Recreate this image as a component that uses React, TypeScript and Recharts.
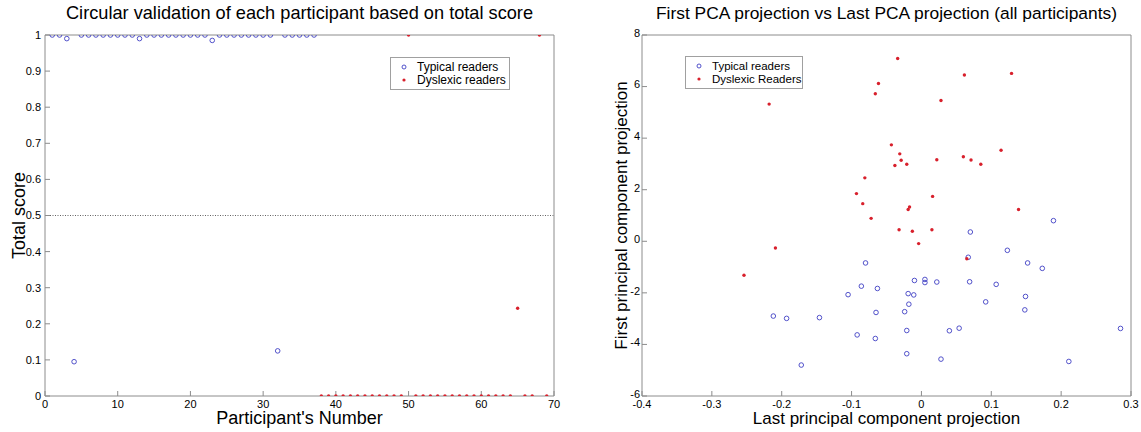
import React from 'react';
import { ScatterChart, Scatter, XAxis, YAxis, ReferenceLine, Legend } from 'recharts';

const FONT = '"Liberation Sans", Arial, Helvetica, sans-serif';
const AXIS_COLOR = '#8c8c8c';
const TEXT_COLOR = '#000';
const BLUE = '#4040c4';
const RED = '#d8202c';

// ---------- Left chart data ----------
const typicalParticipants = [1, 2, 3, 4, 5, 6, 7, 8, 9, 10, 11, 12, 13, 14, 15, 16, 17, 18, 19, 20, 21, 22, 23, 24, 25, 26, 27, 28, 29, 30, 31, 32, 33, 34, 35, 36, 37];
const typicalScores = [1, 1, 0.99, 0.095, 1, 1, 1, 1, 1, 1, 1, 1, 0.99, 1, 1, 1, 1, 1, 1, 1, 1, 1, 0.985, 1, 1, 1, 1, 1, 1, 1, 1, 0.125, 1, 1, 1, 1, 1];
const dyslexicParticipants = [38, 39, 40, 41, 42, 43, 44, 45, 46, 47, 48, 49, 50, 51, 52, 53, 54, 55, 56, 57, 58, 59, 60, 61, 62, 63, 64, 65, 66, 67, 68, 69];
const dyslexicScores = [0, 0, 0, 0, 0, 0, 0, 0, 0, 0, 0, 0, 1, 0, 0, 0, 0, 0, 0, 0, 0, 0, 0, 0, 0, 0, 0, 0.243, 0, 0, 1, 0];
const participantTicks = [0, 10, 20, 30, 40, 50, 60, 70];
const scoreTicks = [0, 0.1, 0.2, 0.3, 0.4, 0.5, 0.6, 0.7, 0.8, 0.9, 1];
const decisionThreshold = 0.5;
const leftSeriesNames = ['Typical readers', 'Dyslexic readers'];

// ---------- Right chart data ----------
const typicalLastPC = [0.189, 0.07, 0.123, 0.067, 0.152, 0.173, -0.08, -0.01, 0.005, 0.005, 0.022, 0.069, 0.107, -0.105, -0.086, -0.063, -0.019, -0.011, -0.018, 0.092, 0.149, 0.148, -0.212, -0.193, -0.146, -0.065, -0.024, -0.021, 0.04, 0.054, -0.092, -0.066, -0.021, 0.028, -0.172, 0.211, 0.285];
const typicalFirstPC = [0.8, 0.36, -0.35, -0.62, -0.84, -1.05, -0.84, -1.52, -1.48, -1.6, -1.58, -1.57, -1.67, -2.07, -1.74, -1.83, -2.03, -2.08, -2.44, -2.35, -2.14, -2.66, -2.9, -2.99, -2.96, -2.76, -2.73, -3.46, -3.47, -3.37, -3.63, -3.77, -4.36, -4.57, -4.8, -4.66, -3.38];
const dyslexicLastPC = [-0.218, -0.034, -0.0615, -0.066, 0.0615, 0.129, 0.028, -0.043, -0.031, 0.114, 0.06, -0.029, -0.038, -0.021, 0.022, 0.071, 0.085, -0.081, -0.093, -0.084, 0.016, -0.017, -0.019, 0.139, -0.072, -0.032, -0.013, 0.015, -0.004, -0.209, 0.065, -0.254];
const dyslexicFirstPC = [5.32, 7.09, 6.12, 5.72, 6.45, 6.51, 5.46, 3.74, 3.39, 3.53, 3.28, 3.14, 2.94, 2.99, 3.16, 3.15, 2.99, 2.46, 1.85, 1.46, 1.74, 1.33, 1.23, 1.23, 0.89, 0.45, 0.39, 0.45, -0.09, -0.26, -0.68, -1.32];
const lastPCTicks = [-0.4, -0.3, -0.2, -0.1, 0, 0.1, 0.2, 0.3];
const firstPCTicks = [-6, -4, -2, 0, 2, 4, 6, 8];
const rightSeriesNames = ['Typical readers', 'Dyslexic Readers'];

const fmt = (v: number) => String(Math.round(v * 10) / 10);

const leftTypical = typicalParticipants.map((p, i) => ({ x: p, y: typicalScores[i] }));
const leftDyslexic = dyslexicParticipants.map((p, i) => ({ x: p, y: dyslexicScores[i] }));
const rightTypical = typicalLastPC.map((v, i) => ({ x: v, y: typicalFirstPC[i] }));
const rightDyslexic = dyslexicLastPC.map((v, i) => ({ x: v, y: dyslexicFirstPC[i] }));

const OpenCircle = (props: any) => (
  <circle cx={props.cx} cy={props.cy} r={2.3} fill="none" stroke={BLUE} strokeWidth={0.9} />
);
const RedDot = (props: any) => (
  <circle cx={props.cx} cy={props.cy} r={1.7} fill={RED} stroke="none" />
);

const tickStyle = { fill: TEXT_COLOR, fontSize: 11, fontFamily: FONT };

const makeLegend = (names: string[], width: number, fontSize: number) => (props: any) => {
  const payload = props.payload || [];
  const ordered = names
    .map((n) => payload.find((e: any) => e.value === n))
    .filter(Boolean);
  return (
    <div
      style={{
        width,
        border: '1px solid #a0a0a0',
        background: '#fff',
        padding: '2px 0 3px 0',
        fontFamily: FONT,
        fontSize,
        color: TEXT_COLOR,
        boxSizing: 'border-box',
      }}
    >
      {ordered.map((entry: any, i: number) => (
        <div key={i} style={{ display: 'flex', alignItems: 'center', height: 13 }}>
          <svg width={26} height={12} style={{ flex: 'none' }}>
            {entry.value === names[0] ? (
              <circle cx={13} cy={6} r={2} fill="none" stroke={BLUE} strokeWidth={0.9} />
            ) : (
              <circle cx={13} cy={6} r={1.6} fill={RED} />
            )}
          </svg>
          <span>{entry.value}</span>
        </div>
      ))}
    </div>
  );
};

const titleLabel = (text: string, size: number) => ({
  content: (p: any) => {
    const vb = p.viewBox;
    return (
      <text x={vb.x + vb.width / 2} y={vb.y + 18.5} textAnchor="middle" fontSize={size} fontFamily={FONT} fill={TEXT_COLOR}>
        {text}
      </text>
    );
  },
});

const xTitleLabel = (text: string, size: number) => ({
  content: (p: any) => {
    const vb = p.viewBox;
    return (
      <text x={vb.x + vb.width / 2} y={vb.y + 28} textAnchor="middle" fontSize={size} fontFamily={FONT} fill={TEXT_COLOR}>
        {text}
      </text>
    );
  },
});

const yTitleLabel = (text: string, size: number, bx: number) => ({
  content: (p: any) => {
    const vb = p.viewBox;
    const x = vb.x + bx;
    const y = vb.y + vb.height / 2;
    return (
      <text x={x} y={y} textAnchor="middle" fontSize={size} fontFamily={FONT} fill={TEXT_COLOR} transform={`rotate(-90, ${x}, ${y})`}>
        {text}
      </text>
    );
  },
});

const LeftChart = () => (
  <ScatterChart width={580} height={432} margin={{ top: 0, right: 0, bottom: 0, left: 0 }}>
    <XAxis
      xAxisId="b"
      type="number"
      dataKey="x"
      domain={[0, 70]}
      ticks={participantTicks}
      interval={0}
      allowDataOverflow
      height={36}
      tickSize={-5}
      tickMargin={9}
      tick={tickStyle}
      stroke={AXIS_COLOR}
      label={xTitleLabel("Participant's Number", 18)}
    />
    <XAxis
      xAxisId="t"
      orientation="top"
      type="number"
      domain={[0, 70]}
      ticks={participantTicks}
      interval={0}
      allowDataOverflow
      height={35}
      tickSize={-5}
      tick={false}
      stroke={AXIS_COLOR}
      label={titleLabel('Circular validation of each participant based on total score', 18.2)}
    />
    <YAxis
      yAxisId="l"
      type="number"
      dataKey="y"
      domain={[0, 1]}
      ticks={scoreTicks}
      interval={0}
      allowDataOverflow
      width={45}
      tickSize={-5}
      tickMargin={9}
      tick={tickStyle}
      tickFormatter={fmt}
      stroke={AXIS_COLOR}
      label={yTitleLabel('Total score', 18, 24.5)}
    />
    <YAxis
      yAxisId="r"
      orientation="right"
      type="number"
      domain={[0, 1]}
      ticks={scoreTicks}
      interval={0}
      allowDataOverflow
      width={26}
      tickSize={-5}
      tick={false}
      stroke={AXIS_COLOR}
    />
    <ReferenceLine xAxisId="b" yAxisId="l" y={decisionThreshold} stroke="#3a3a3a" strokeWidth={0.8} strokeDasharray="1 1.5" ifOverflow="extendDomain" />
    <Scatter xAxisId="b" yAxisId="l" name={leftSeriesNames[0]} data={leftTypical} shape={OpenCircle} fill={BLUE} isAnimationActive={false} />
    <Scatter xAxisId="b" yAxisId="l" name={leftSeriesNames[1]} data={leftDyslexic} shape={RedDot} fill={RED} isAnimationActive={false} />
    <Legend
      layout="vertical"
      align="center"
      verticalAlign="middle"
      content={makeLegend(leftSeriesNames, 120, 12)}
      wrapperStyle={{ left: 390, top: 57, width: 120, height: 'auto', bottom: 'auto', right: 'auto' }}
    />
  </ScatterChart>
);

const RightChart = () => (
  <ScatterChart width={561} height={432} margin={{ top: 0, right: 0, bottom: 0, left: 0 }}>
    <XAxis
      xAxisId="b"
      type="number"
      dataKey="x"
      domain={[-0.4, 0.3]}
      ticks={lastPCTicks}
      interval={0}
      allowDataOverflow
      height={36}
      tickSize={-5}
      tickMargin={9}
      tick={tickStyle}
      tickFormatter={fmt}
      stroke={AXIS_COLOR}
      label={xTitleLabel('Last principal component projection', 17)}
    />
    <XAxis
      xAxisId="t"
      orientation="top"
      type="number"
      domain={[-0.4, 0.3]}
      ticks={lastPCTicks}
      interval={0}
      allowDataOverflow
      height={35}
      tickSize={-5}
      tick={false}
      stroke={AXIS_COLOR}
      label={titleLabel('First PCA projection vs Last PCA projection (all participants)', 17.4)}
    />
    <YAxis
      yAxisId="l"
      type="number"
      dataKey="y"
      domain={[-6, 8]}
      ticks={firstPCTicks}
      interval={0}
      allowDataOverflow
      width={62}
      tickSize={-5}
      tickMargin={7}
      tick={{ ...tickStyle, dy: -2 }}
      stroke={AXIS_COLOR}
      label={yTitleLabel('First principal component projection', 17, 47)}
    />
    <YAxis
      yAxisId="r"
      orientation="right"
      type="number"
      domain={[-6, 8]}
      ticks={firstPCTicks}
      interval={0}
      allowDataOverflow
      width={10}
      tickSize={-5}
      tick={false}
      stroke={AXIS_COLOR}
    />
    <Scatter xAxisId="b" yAxisId="l" name={rightSeriesNames[0]} data={rightTypical} shape={OpenCircle} fill={BLUE} isAnimationActive={false} />
    <Scatter xAxisId="b" yAxisId="l" name={rightSeriesNames[1]} data={rightDyslexic} shape={RedDot} fill={RED} isAnimationActive={false} />
    <Legend
      layout="vertical"
      align="center"
      verticalAlign="middle"
      content={makeLegend(rightSeriesNames, 118, 11.5)}
      wrapperStyle={{ left: 105, top: 56, width: 118, height: 'auto', bottom: 'auto', right: 'auto' }}
    />
  </ScatterChart>
);

export default function App() {
  return (
    <div style={{ position: 'absolute', left: 0, top: 0, width: 1141, height: 432, background: '#fff' }}>
      <div style={{ position: 'absolute', left: 0, top: 0 }}>
        <LeftChart />
      </div>
      <div style={{ position: 'absolute', left: 580, top: 0 }}>
        <RightChart />
      </div>
    </div>
  );
}
